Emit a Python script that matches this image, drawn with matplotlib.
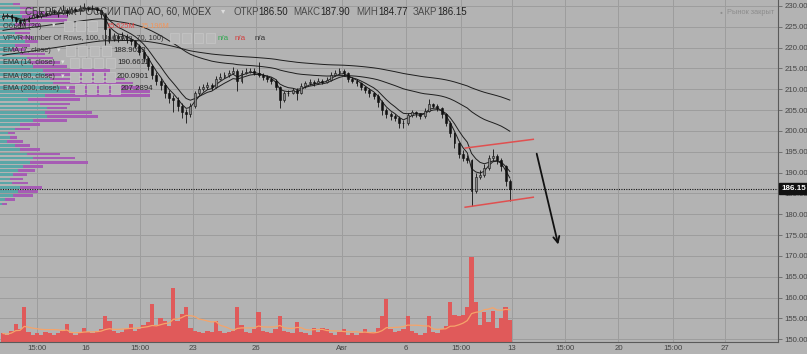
import numpy as np
import pandas as pd
import matplotlib
matplotlib.use("Agg")
import matplotlib.pyplot as plt
from matplotlib.patches import Rectangle

plt.rcParams['font.family'] = ['Liberation Sans', 'DejaVu Sans']

# SBER hourly, squeezed to 5 candles per trading day; x in trading days (0 = 16 Jul)
first_open = 227.0
closes = [227.5, 227.8, 227.0, 226.5, 225.8, 226.5, 227.2, 227.8, 227.5, 228.3,
          228.0, 228.8, 228.5, 228.2, 229.0, 228.4, 229.2, 229.0, 229.5, 229.8,
          229.4, 229.6, 229.0, 228.0, 224.5, 222.0, 222.8, 222.2, 222.8, 222.0,
          221.5, 220.5, 219.0, 217.5, 215.5, 213.5, 212.0, 211.0, 209.0, 208.0,
          207.5, 206.0, 204.5, 204.0, 206.0, 209.0, 210.0, 210.5, 211.0, 210.5,
          212.5, 213.0, 213.5, 213.8, 214.5, 212.0, 214.0, 214.2, 214.5, 214.0,
          213.5, 213.0, 212.5, 212.0, 210.5, 207.5, 209.0, 209.2, 209.8, 209.0,
          210.8, 211.5, 211.8, 211.5, 212.0, 211.8, 212.3, 213.5, 214.0, 214.3,
          214.0, 212.5, 212.0, 211.5, 210.5, 209.8, 209.0, 208.5, 207.0, 205.0,
          204.0, 203.5, 203.2, 202.0, 201.8, 203.8, 204.5, 204.2, 203.5, 204.8,
          206.5, 206.0, 205.5, 204.0, 202.0, 199.5, 197.0, 194.5, 193.5, 193.0,
          185.5, 189.0, 189.5, 191.0, 193.5, 194.0, 193.0, 191.5, 188.0, 186.15]
highs = [228.2, 228.4, 228.0, 227.4, 226.8, 227.0, 227.6, 228.2, 228.3, 228.8,
         228.7, 229.6, 229.2, 229.0, 230.2, 229.4, 229.8, 229.8, 230.3, 230.6,
         230.0, 230.2, 229.8, 229.2, 228.2, 224.8, 223.6, 223.2, 223.8, 223.2,
         222.4, 221.8, 220.8, 219.4, 218.0, 216.0, 214.2, 212.6, 211.4, 209.8,
         208.6, 208.2, 206.6, 205.2, 206.8, 209.6, 210.8, 211.2, 211.8, 211.6,
         213.2, 213.8, 214.2, 214.6, 215.4, 214.8, 214.6, 215.0, 215.2, 215.0,
         216.6, 214.0, 213.4, 213.0, 212.4, 210.8, 209.6, 209.8, 210.4, 210.2,
         211.6, 212.0, 212.4, 212.2, 212.6, 212.4, 213.0, 214.2, 214.6, 215.0,
         214.8, 214.2, 213.0, 212.4, 211.8, 210.8, 210.2, 209.4, 208.8, 207.4,
         205.6, 204.6, 204.0, 203.6, 202.6, 204.4, 205.0, 204.8, 204.4, 205.4,
         207.6, 206.8, 206.4, 205.8, 204.4, 202.4, 199.8, 197.4, 195.4, 194.2,
         193.2, 190.0, 190.6, 192.0, 194.2, 195.6, 194.4, 193.4, 191.8, 188.4]
lows = [226.6, 227.0, 226.4, 225.8, 225.0, 225.4, 226.2, 227.0, 227.0, 227.2,
        227.6, 227.8, 228.0, 227.4, 228.0, 227.6, 228.2, 228.6, 228.8, 229.2,
        228.8, 229.0, 228.4, 227.2, 220.6, 221.0, 221.6, 221.4, 221.8, 221.0,
        220.6, 219.8, 218.2, 216.5, 214.6, 212.5, 211.0, 209.8, 208.0, 206.8,
        204.5, 204.8, 203.0, 201.8, 203.4, 205.6, 208.6, 209.6, 210.0, 209.8,
        210.2, 212.2, 212.8, 213.0, 213.6, 209.6, 211.6, 213.6, 213.8, 213.4,
        213.0, 212.2, 211.8, 211.2, 209.8, 205.6, 207.0, 208.4, 208.8, 207.4,
        208.8, 210.4, 211.0, 210.8, 211.2, 211.2, 211.4, 212.0, 213.2, 213.6,
        213.2, 211.8, 211.4, 210.8, 209.8, 209.0, 208.2, 207.6, 205.8, 203.8,
        203.0, 202.6, 202.4, 200.8, 200.6, 201.4, 203.4, 203.4, 202.8, 203.2,
        204.6, 205.4, 204.8, 203.2, 201.2, 198.6, 196.0, 193.6, 192.8, 192.2,
        182.0, 185.0, 188.4, 189.0, 190.6, 192.8, 192.0, 190.4, 186.8, 183.2]
volumes = [6, 5, 8, 13, 9, 25, 7, 5, 6, 5,
           7, 6, 5, 6, 8, 13, 6, 5, 6, 10,
           7, 6, 8, 9, 18, 15, 8, 6, 7, 9,
           13, 8, 9, 12, 14, 27, 12, 17, 15, 11,
           38, 15, 20, 25, 10, 8, 7, 6, 8, 7,
           15, 8, 6, 7, 8, 25, 12, 7, 6, 9,
           21, 8, 7, 6, 9, 18, 8, 7, 6, 14,
           7, 6, 5, 10, 7, 10, 9, 6, 5, 7,
           9, 5, 6, 5, 6, 9, 6, 7, 10, 18,
           30, 9, 7, 8, 9, 18, 8, 6, 5, 6,
           18, 7, 6, 9, 11, 28, 19, 18, 19, 25,
           60, 28, 12, 21, 14, 22, 10, 17, 25, 15.625]  # millions

# volume profile rows (price, up volume, down volume)
vp_price = np.arange(230.5, 182.0, -1.0)
vp_up = [13, 20, 20, 22, 23, 15, 10, 15, 20, 25, 15, 12, 20, 27, 30, 33, 43,
         45, 50, 53, 60, 70, 45, 28, 40, 47, 45, 47, 33, 20, 15, 8, 10, 7, 15,
         20, 27, 33, 30, 23, 18, 13, 10, 12, 20, 18, 13, 5, 2]
vp_down = [7, 13, 25, 46, 44, 25, 20, 15, 13, 13, 15, 13, 25, 26, 30, 34, 67,
           70, 75, 80, 80, 80, 105, 52, 30, 20, 47, 51, 34, 20, 15, 7, 7, 16, 15,
           20, 33, 42, 58, 20, 17, 14, 13, 16, 22, 20, 20, 10, 5]

# hand drawn channel and arrow
chan_x = [17.8, 21.0]
chan_top = [195.9, 198.0]
chan_bot = [181.7, 184.1]
arrow_from = (21.13, 195.2)
arrow_to = (22.2, 172.1)

ema_seeds = {7: None, 14: None, 80: 224.0, 200: 218.0}
hours_per_bar = 1.8

tick_pos = [-2.3, 0, 2.55, 5, 8, 12, 15, 17.6, 20, 22.5, 25, 27.55, 30]
tick_lab = ['15:00', '16', '15:00', '23', '26', 'Авг', '6', '15:00', '13',
            '15:00', '20', '15:00', '27']

W, H = 807, 354
BG = '#b3b3b3'

closes = np.array(closes)
highs = np.array(highs)
lows = np.array(lows)
volumes = np.array(volumes)
opens = np.concatenate([[first_open], closes[:-1]])
xs = -3.9 + 0.2 * np.arange(len(closes))

fig = plt.figure(figsize=(W / 100, H / 100), dpi=100)
fig.patch.set_facecolor(BG)
ax = fig.add_axes([0, 12 / H, 778 / W, 342 / H])
ax.set_facecolor(BG)
ax.set_xlim(-4.04, 32.49)
ax.set_ylim(149.35, 231.44)
ax.grid(True, color='#9d9d9d', lw=0.7)
ax.set_axisbelow(True)

# volume profile on the left
vp_up = np.array(vp_up)
vp_down = np.array(vp_down)
sc = 0.193 / (vp_up + vp_down).max()
ytr = ax.get_yaxis_transform()
ax.barh(vp_price, vp_up * sc, height=0.62, left=0, color='#5aa6a7',
        transform=ytr, zorder=1, lw=0)
ax.barh(vp_price, vp_down * sc, height=0.62, left=vp_up * sc, color='#a65cb4',
        transform=ytr, zorder=1, lw=0)

# volume
VMAX = 241.0
xtr = ax.get_xaxis_transform()
ax.bar(xs, volumes / VMAX, width=0.2, bottom=0, color='#e05a5a', lw=0,
       transform=xtr, zorder=2)
vol_ma = pd.Series(volumes).rolling(11, min_periods=1).mean()
ax.plot(xs, vol_ma / VMAX, color='#f5a46a', lw=0.9, transform=xtr, zorder=2)

# EMAs
for n, seed in ema_seeds.items():
    s = pd.Series(closes)
    if seed is not None:
        s = pd.concat([pd.Series([seed]), s], ignore_index=True)
    e = s.ewm(span=n / hours_per_bar, adjust=False).mean().values
    if seed is not None:
        e = e[1:]
    ax.plot(xs, e, color='#1e1e1e', lw=0.7, zorder=3)

# candles
ax.vlines(xs, lows, highs, color='#111111', lw=0.6, zorder=4)
up = closes >= opens
body = np.maximum(np.abs(closes - opens), 0.15)
ax.bar(xs, body, bottom=np.minimum(opens, closes), width=0.09,
       color=np.where(up, '#8a8a8a', '#111111'), edgecolor='#111111',
       lw=0.4, zorder=5)

# channel + arrow
ax.plot(chan_x, chan_top, color='#e05050', lw=1.1, zorder=6)
ax.plot(chan_x, chan_bot, color='#e05050', lw=1.1, zorder=6)
ax.annotate('', xy=arrow_to, xytext=arrow_from,
            arrowprops=dict(arrowstyle='->', color='#111111', lw=1.3,
                            mutation_scale=11), zorder=6)

last = closes[-1]
ax.axhline(last, color='#111111', lw=0.8, ls=(0, (1, 1.2)), zorder=3)
ax.text(1.004, last, f'{last:.2f}', transform=ytr, ha='left', va='center',
        color='white', fontsize=5.8, fontweight='bold', clip_on=False, zorder=10,
        bbox=dict(boxstyle='square,pad=0.28', fc='#111111', ec='#111111'))

ax.yaxis.tick_right()
ax.set_yticks(np.arange(150, 231, 5))
ax.set_yticklabels([f'{v:.2f}' for v in np.arange(150, 231, 5)])
ax.tick_params(axis='y', length=3, width=0.6, color='#666666', labelsize=5.6,
               labelcolor='#444444', pad=1.5)
ax.set_xticks(tick_pos)
ax.set_xticklabels(tick_lab)
ax.tick_params(axis='x', length=0, labelsize=5.6, labelcolor='#444444', pad=2.5)
for sp in ['top', 'left']:
    ax.spines[sp].set_visible(False)
for sp in ['right', 'bottom']:
    ax.spines[sp].set_color('#5a5a5a')
    ax.spines[sp].set_linewidth(0.8)


def ftxt(x, y, s, **kw):
    kw.setdefault('color', '#333333')
    kw.setdefault('fontsize', 5.3)
    fig.text(x / W, 1 - y / H, s, ha='left', va='center', **kw)


def icons(x, y, n):
    for k in range(n):
        fig.add_artist(Rectangle(((x + 12 * k) / W, 1 - (y + 4.5) / H), 9 / W, 9 / H,
                                 transform=fig.transFigure, fc='#b9b9b9',
                                 ec='#c6c6c6', lw=0.5, zorder=4))


# header
ftxt(25, 12, 'СБЕРБАНК РОССИИ ПАО АО, 60, MOEX', fontsize=7, color='#3a3a3a')
ftxt(221, 12, '▾', fontsize=6, color='#dddddd')
hdr = [(234, 'ОТКР', '#4a4a4a'), (258, '186.50', '#222222'),
       (293, 'МАКС', '#4a4a4a'), (320, '187.90', '#222222'),
       (356, 'МИН', '#4a4a4a'), (378, '184.77', '#222222'),
       (413, 'ЗАКР', '#4a4a4a'), (437, '186.15', '#222222')]
for x, s, c in hdr:
    ftxt(x, 12, s, fontsize=7, color=c)

ftxt(3, 26, 'Объем (20)')
ftxt(52, 26, '▾', fontsize=5, color='#dddddd')
icons(64, 26, 3)
ftxt(106, 26, f'{volumes[-1]:.3f}M', color='#e04848')
ftxt(140, 26, '15.196M', color='#f2955a')

ftxt(3, 38, 'VPVR Number Of Rows, 100, Up/Down, 70, 100)')
icons(170, 38, 4)
ftxt(218, 38, 'n/a', color='#2fa84f', fontsize=5.8)
ftxt(235, 38, 'n/a', color='#d23c3c', fontsize=5.8)
ftxt(255, 38, 'n/a', color='#333333', fontsize=5.8)

ema_rows = [(51, 'EMA (7, close)', '188.9023', 57, 113),
            (63, 'EMA (14, close)', '190.6611', 61, 117),
            (77, 'EMA (80, close)', '200.0901', 61, 117),
            (89, 'EMA (200, close)', '207.2894', 66, 121)]
for y, lab, val, xa, xv in ema_rows:
    ftxt(3, y, lab)
    ftxt(xa, y, '▾', fontsize=5, color='#dddddd')
    icons(xa + 9, y, 4)
    ftxt(xv, y, val, color='#222222', fontsize=5.6)

ftxt(720, 12, '●', fontsize=3.5, color='#8d8d8d')
ftxt(727, 12, 'Рынок закрыт', fontsize=5.3, color='#8d8d8d')

fig.savefig('out.png', dpi=100, facecolor=BG)
